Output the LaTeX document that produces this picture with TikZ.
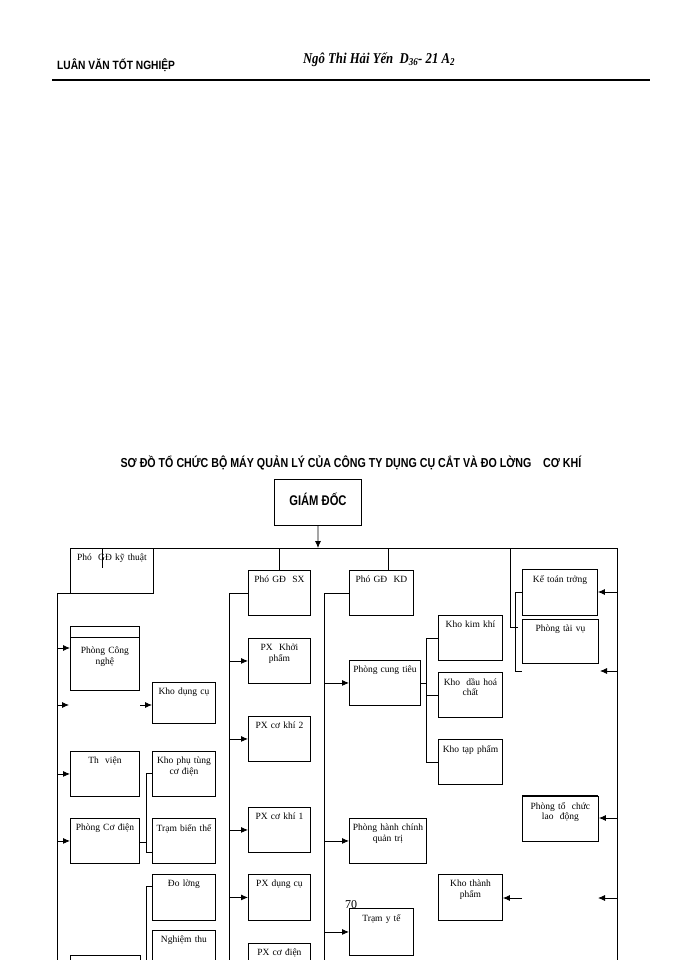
\documentclass[tikz,border=0pt]{standalone}
\usepackage{fontspec}
\setmainfont{Liberation Serif}
\newfontfamily\hsans{Liberation Sans}
\usetikzlibrary{arrows.meta}
\tikzset{
  bx/.style={draw, line width=0.9pt, inner sep=0pt, anchor=north west},
  lbl/.style={anchor=north, font=\fontsize{9.5}{10.5}\selectfont, align=center, inner sep=1pt},
  ln/.style={line width=0.8pt},
  arr/.style={line width=0.8pt, -{Latex[length=7pt,width=6pt]}}
}
\newcommand{\bx}[6]{%
  \pgfmathsetmacro{\bw}{#4-#2}\pgfmathsetmacro{\bh}{#5-#3}%
  \node[bx, minimum width=\bw pt, minimum height=\bh pt] (#1) at (#2,#3) {};
  \node[lbl, text width=\bw pt-2pt] at ([yshift=-5pt]#1.north) {#6};}
\begin{document}
\begin{tikzpicture}[x=1pt,y=-1pt]
\useasboundingbox (0,0) rectangle (700,960);
% header
\node[anchor=west, font=\hsans\bfseries\fontsize{12}{13}\selectfont, xscale=0.85, inner sep=0] (h1) at (57,65) {LUÂN VĂN TỐT NGHIỆP};
\node[font=\bfseries\itshape\fontsize{15}{16}\selectfont, xscale=0.85, inner sep=0] (h2) at (379,60) {Ngô Thi Hải Yến\ \ D\textsubscript{36}- 21 A\textsubscript{2}};
\draw[line width=2.5pt] (52,80) -- (650,80);
% title
\node[font=\hsans\bfseries\fontsize{13}{14}\selectfont, xscale=0.82, inner sep=0] (title) at (351,463) {SƠ ĐỒ TỔ CHỨC BỘ MÁY QUẢN LÝ CỦA CÔNG TY DỤNG CỤ CẮT VÀ ĐO LỜNG\ \ \ \ CƠ KHÍ};
% director
\node[bx, minimum width=87pt, minimum height=46pt] (gd) at (274,479) {};
\node[font=\hsans\bfseries\fontsize{14}{15}\selectfont, xscale=0.8] at ([yshift=3pt]gd.center) {GIÁM ĐỐC};
\coordinate (top) at (318,548);
\draw[arr] (gd.south) -- (top);
\draw[ln] (70,548) -- (617,548) -- (617,960);
% left column
\bx{kt}{70}{548}{153}{593}{Phó\ \ GĐ kỹ thuật}
\draw[ln] (102,548) -- (102,568);
\coordinate (L) at (57,593);
\draw[ln] (kt.west |- L) -- (L) -- (57,960);
\node[bx, minimum width=69pt, minimum height=64pt] (cn) at (70,626) {};
\node[lbl, text width=67pt] at ([yshift=-20pt]cn.north) {Phòng Công\\nghệ};
\draw[ln] (70,637) -- (139,637);
\bx{tv}{70}{751}{139}{796}{Th\ \ viện}
\bx{cd}{70}{818}{139}{863}{Phòng Cơ điện}
\node[bx, minimum width=70pt, minimum height=20pt] (bl) at (70,955) {};
\draw[arr] (57,648) -- (cn.west |- 0,648);
\draw[arr] (57,705) -- (69,705);
\draw[arr] (L |- tv.west) -- (tv.west);
\draw[arr] (L |- cd.west) -- (cd.west);
\bx{kdc}{152}{682}{215}{723}{Kho dụng cụ}
\draw[arr] (140,705) -- (kdc.west |- 0,705);
\bx{kpt}{152}{751}{215}{796}{Kho phụ tùng\\cơ điện}
\bx{tbt}{152}{818}{215}{863}{Trạm biến thế}
\draw[ln] (152,773) -- (146,773) -- (146,852) -- (152,852);
\draw[ln] (cd.east |- 0,842) -- (146,842);
\bx{dl}{152}{874}{215}{920}{Đo lờng}
\bx{nt}{152}{930}{215}{975}{Nghiệm thu}
\draw[ln] (152,886) -- (146,886) -- (146,960);
% SX column
\bx{sx}{248}{570}{310}{615}{Phó GĐ\ \ SX}
\draw[ln] (279,548) -- (sx.north -| 279,0);
\coordinate (S) at (229,593);
\draw[ln] (sx.west |- S) -- (S) -- (229,960);
\bx{pk}{248}{638}{310}{683}{PX\ \ Khởi\\phẩm}
\bx{p2}{248}{716}{310}{761}{PX cơ khí 2}
\bx{p1}{248}{807}{310}{852}{PX\ cơ\ khí\ 1}
\bx{pd}{248}{874}{310}{920}{PX dụng cụ}
\bx{pe}{248}{943}{310}{985}{PX cơ điện}
\foreach \n in {pk,p2,p1,pd} \draw[arr] (S |- \n.west) -- (\n.west);
% KD column
\bx{kd}{349}{570}{413}{615}{Phó GĐ\ \ KD}
\draw[ln] (388,548) -- (388,570);
\coordinate (K) at (324,593);
\draw[ln] (kd.west |- K) -- (K) -- (324,960);
\bx{ct}{349}{660}{420}{705}{Phòng cung tiêu}
\bx{hc}{349}{818}{426}{863}{Phòng hành chính\\quản trị}
\bx{yt}{349}{908}{413}{955}{Trạm y tế}
\node[font=\fontsize{12}{13}\selectfont, inner sep=0] (p70) at (351,905) {70};
\foreach \n in {ct,hc,yt} \draw[arr] (K |- \n.west) -- (\n.west);
\bx{kk}{438}{615}{502}{660}{Kho kim khí}
\bx{kh}{438}{672}{502}{717}{Kho\ \ dầu hoá\\chất}
\bx{tp}{438}{739}{502}{784}{Kho tạp phẩm}
\draw[ln] (438,638) -- (426,638) -- (426,762) -- (438,762);
\draw[ln] (426,695) -- (438,695);
\draw[ln] (ct.east |- 0,683) -- (426,683);
\bx{kth}{438}{874}{502}{920}{Kho thành\\phẩm}
\draw[arr] (522,898) -- (kth.east |- 0,898);
% right column
\bx{ktt}{522}{569}{597}{615}{Kế toán trởng}
\bx{ptv}{522}{619}{598}{663}{Phòng tài vụ}
\bx{tc}{522}{796}{598}{841}{Phòng tổ\ \ chức\\lao\ \ động}
\draw[line width=1.8pt] (522,796) -- (598,796);
\draw[ln] (510,548) -- (510,627) -- (518,627);
\draw[ln] (522,592) -- (515,592) -- (515,671) -- (522,671);
\draw[arr] (617,592) -- (ktt.east |- 0,592);
\draw[arr] (617,671) -- (600,671);
\draw[arr] (617,818) -- (tc.east |- 0,818);
\draw[arr] (617,898) -- (598,898);
\end{tikzpicture}
\end{document}
